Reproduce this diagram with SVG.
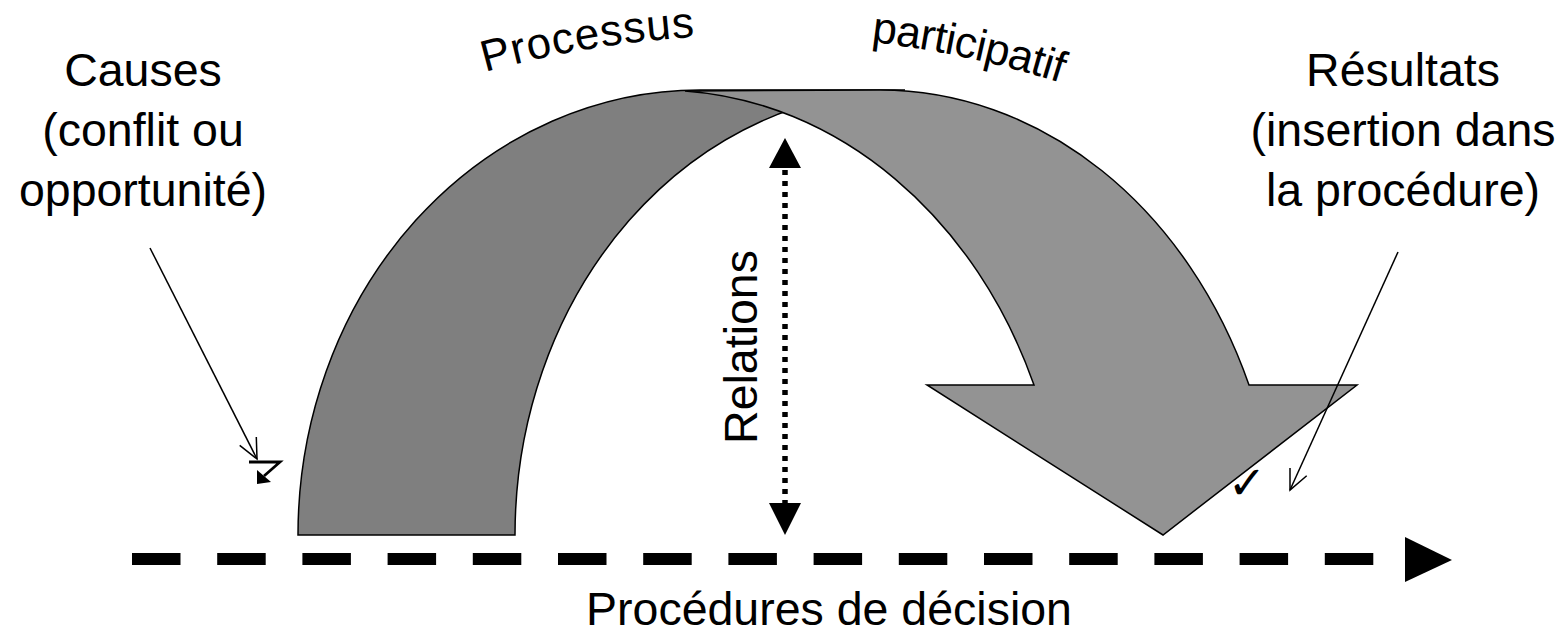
<svg xmlns="http://www.w3.org/2000/svg" width="1561" height="634" viewBox="0 0 1561 634">
<style>
  .lbl { font-family: "Liberation Sans", Arial, sans-serif; font-size: 46.5px; fill: #000; }
  .arc { font-family: "Liberation Sans", Arial, sans-serif; font-size: 44px; fill: #000; }
  .sym { font-family: "DejaVu Sans", sans-serif; fill: #000; }
  .band { stroke: #000; stroke-width: 1.5; stroke-linejoin: miter; }
  .thin { stroke: #000; stroke-width: 1.5; fill: none; }
</style>
<defs>
  <path id="archPath" d="M 411.3 95.8 A 1005 1005 0 0 1 1098.7 95.8" fill="none"/>
</defs>
<rect width="1561" height="634" fill="#fff"/>

<g id="curved-arrow">
  <path class="band" fill="#7f7f7f" d="M 298 535 A 402 445 0 0 1 700 90 L 905 90 A 390 445 0 0 0 515 535 Z"/>
  <path class="band" fill="#939393" d="M 685 90.9 L 880 90 A 400 480 0 0 1 1249 385 L 1357 385 L 1163 535 L 927 385 L 1034 385 A 405 480 0 0 0 685 90.9 Z"/>
</g>

<g id="arc-title">
  <text class="arc"><textPath href="#archPath" startOffset="77.5" textLength="213">Processus</textPath></text>
  <text class="arc"><textPath href="#archPath" startOffset="467" textLength="194">participatif</textPath></text>
</g>

<g id="causes">
  <text class="lbl" x="143" y="86" text-anchor="middle">Causes</text>
  <text class="lbl" x="143" y="146" text-anchor="middle">(conflit ou</text>
  <text class="lbl" x="143" y="206" text-anchor="middle">opportunité)</text>
  <g id="zigzag-symbol">
    <polyline points="249,462 280,462 264,476" fill="none" stroke="#000" stroke-width="2.8" stroke-linejoin="miter"/>
    <polygon points="257,470 257,484 271,482" fill="#000"/>
  </g>
</g>

<g id="resultats">
  <text class="lbl" x="1403" y="86" text-anchor="middle">Résultats</text>
  <text class="lbl" x="1403" y="146" text-anchor="middle">(insertion dans</text>
  <text class="lbl" x="1403" y="206" text-anchor="middle">la procédure)</text>
  <text class="sym" x="1247" y="499" font-size="46" text-anchor="middle">✓</text>
</g>

<g id="relations">
  <text class="lbl" transform="translate(757,347) rotate(-90)" text-anchor="middle" font-size="44">Relations</text>
</g>

<g id="procedures">
  <text class="lbl" x="829" y="625" text-anchor="middle">Procédures de décision</text>
</g>

<g id="connectors">
  <!-- Causes pointer -->
  <line class="thin" x1="150" y1="248" x2="257" y2="459"/>
  <polyline class="thin" points="239.7,445.4 257,459 256.3,437"/>
  <!-- Résultats pointer -->
  <line class="thin" x1="1398" y1="252" x2="1290" y2="490"/>
  <polyline class="thin" points="1306.7,475.7 1290,490 1290,468"/>
  <!-- Relations double arrow -->
  <line x1="785" y1="170" x2="785" y2="503" stroke="#000" stroke-width="5.5" stroke-dasharray="5 6"/>
  <polygon points="785,138 769,168 801,168" fill="#000"/>
  <polygon points="785,535 769,503 801,503" fill="#000"/>
  <!-- Timeline -->
  <line x1="132" y1="559" x2="1373.3" y2="559" stroke="#000" stroke-width="12" stroke-dasharray="48.5 36.7"/>
  <polygon points="1405,537 1452,560 1405,582" fill="#000"/>
</g>
</svg>
